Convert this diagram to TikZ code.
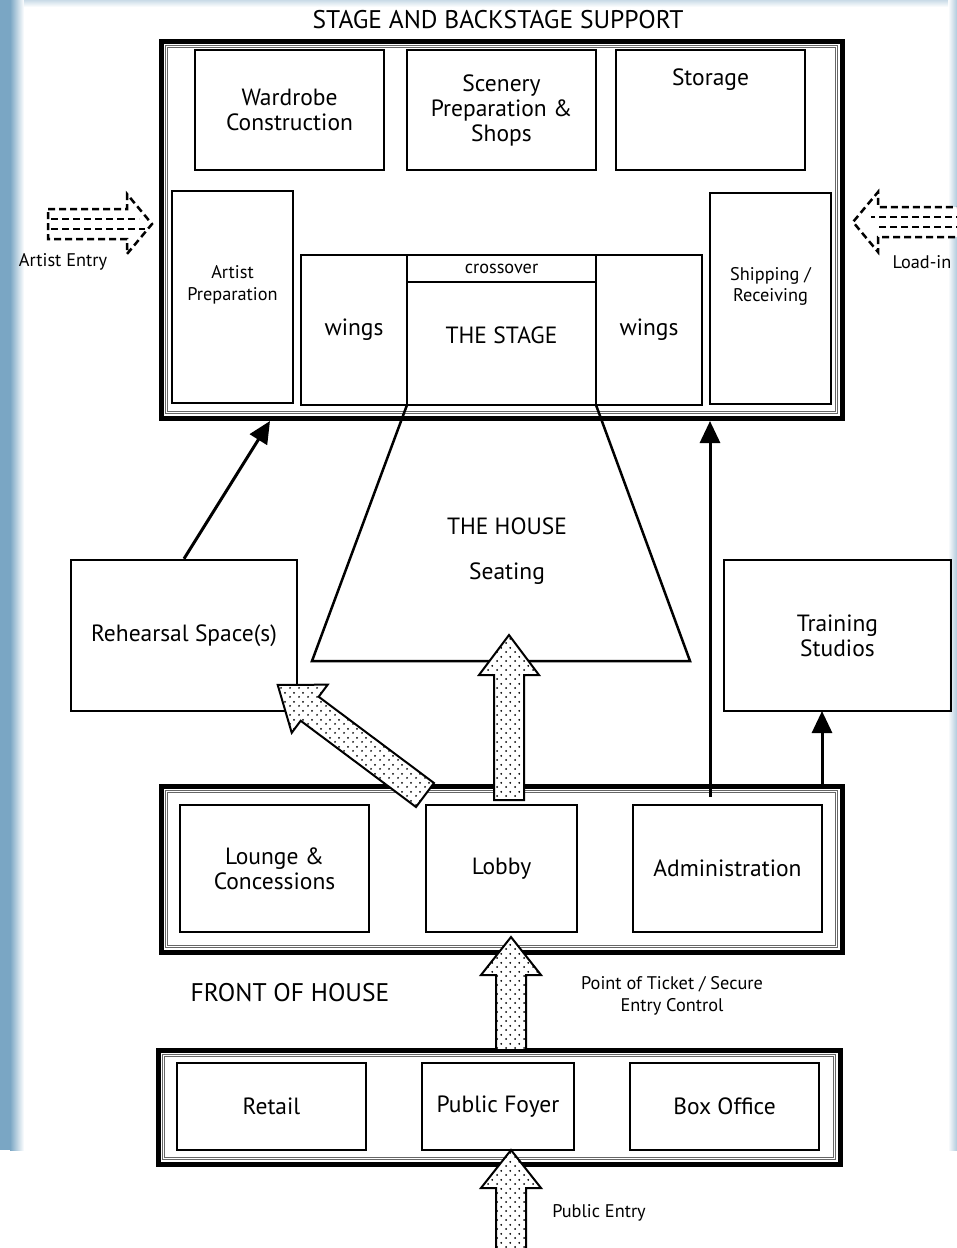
\documentclass[tikz,border=0pt]{standalone}
\usepackage{fontspec}
\setmainfont{PT Sans}
\usetikzlibrary{shapes.geometric, arrows.meta, patterns}

\definecolor{edgeblue}{RGB}{122,166,196}
\newcommand{\roomfont}{\fontsize{23.5}{25}\selectfont}
\newcommand{\notefont}{\fontsize{18.3}{21.5}\selectfont}
\newcommand{\titlefont}{\fontsize{25.5}{28}\selectfont}

\pgfdeclarepatternformonly{sparsedots}{\pgfqpoint{0pt}{0pt}}{\pgfqpoint{9pt}{9pt}}{\pgfqpoint{9pt}{9pt}}{%
  \pgfpathcircle{\pgfqpoint{2.25pt}{2.25pt}}{1.1pt}%
  \pgfpathcircle{\pgfqpoint{6.75pt}{6.75pt}}{1.1pt}%
  \pgfusepath{fill}}

\tikzstyle{room} = [rectangle, draw=black, line width=2.5pt, align=center, font=\roomfont, inner sep=0pt]
\tikzstyle{zone} = [rectangle, draw=black, line width=5pt, inner sep=0pt]
\tikzstyle{zoneline} = [draw=black!60, line width=1.1pt, double=white, double distance=1.4pt]
\tikzstyle{notetext} = [font=\notefont, align=center]
\tikzstyle{arrow} = [line width=3pt, -{Triangle[length=22pt,width=20pt]}]
\tikzstyle{dotarrow} = [draw=black, line width=2pt, pattern=sparsedots, preaction={fill=white}]
\tikzstyle{dasharrow} = [draw=black, line width=2.5pt, dash pattern=on 7pt off 4pt, fill=white]
\tikzstyle{dashline} = [draw=black, line width=2.5pt, dash pattern=on 7pt off 4pt]

% inner thin lines of a zone frame
\newcommand{\zoneframe}[1]{\draw [zoneline] ([shift={(8,8)}]#1.north west) rectangle ([shift={(-8,-8)}]#1.south east);}
% block arrow: style, tail, angle, length, head length
\newcommand{\blockarrow}[5]{\draw [#1, shift={(#2)}, rotate=#3]
  (0,-15) -- (#4-#5,-15) -- (#4-#5,-30) -- (#4,0) -- (#4-#5,30) -- (#4-#5,15) -- (0,15) -- cycle;}

\begin{document}
\begin{tikzpicture}[x=1pt, y=-1pt]
\fill [white] (0,0) rectangle (957,1248);
\useasboundingbox (0,0) rectangle (957,1248);
\fill [edgeblue] (0,0) rectangle (10,1150);
\shade [left color=edgeblue, right color=white] (10,0) rectangle (24,1150);
\shade [left color=white, right color=edgeblue!60] (948,0) rectangle (957,1150);
\shade [top color=edgeblue!40, bottom color=white] (24,0) rectangle (948,7);

% stage and backstage support
\node (support) [zone, minimum width=681pt, minimum height=377pt] at (501.5,229.5) {};
\zoneframe{support}
\node (title) [font=\titlefont] at (498,20) {STAGE AND BACKSTAGE SUPPORT};
\node (wardrobe) [room, minimum width=189pt, minimum height=120pt] at (289.5,110) {Wardrobe\\Construction};
\node (scenery) [room, minimum width=189pt, minimum height=120pt] at (501.5,110) {Scenery\\Preparation \&\\Shops};
\node (storage) [room, minimum width=189pt, minimum height=120pt,
  label={[anchor=center, yshift=-31pt, font=\roomfont]north:Storage}] at (710.5,110) {};
\node (artprep) [room, minimum width=121pt, minimum height=212pt,
  label={[yshift=12pt, notetext]center:Artist\\Preparation}] at (232.5,297) {};
\node (shipping) [room, minimum width=121pt, minimum height=211pt,
  label={[yshift=12pt, notetext]center:Shipping /\\Receiving}] at (770.5,298.5) {};
\node (wingsleft) [room, minimum width=106pt, minimum height=150pt] at (354,330) {wings};
\node (wingsright) [room, minimum width=106pt, minimum height=150pt] at (649,330) {wings};
\node (crossover) [room, font=\notefont, minimum width=189pt, minimum height=27pt] at (501.5,268.5) {crossover};
\node (stage) [room, minimum width=189pt, minimum height=123pt,
  label={[yshift=8pt, font=\roomfont]center:THE STAGE}] at (501.5,343.5) {};

% the house
\draw [line width=2.5pt, line join=miter] (407,405) -- (312,661) -- (690,661) -- (596,405);
\node (house) [font=\roomfont, align=center] at (507,551) {THE HOUSE\\[20pt]Seating};

\node (rehearsal) [room, minimum width=226pt, minimum height=151pt] at (184,635.5) {Rehearsal Space(s)};
\node (training) [room, minimum width=227pt, minimum height=151pt] at (837.5,635.5) {Training\\Studios};

% front of house
\node (foh) [zone, minimum width=681pt, minimum height=166pt] at (501.5,869) {};
\zoneframe{foh}
\node (lounge) [room, minimum width=189pt, minimum height=127pt] at (274.5,868.5) {Lounge \&\\Concessions};
\node (lobby) [room, minimum width=151pt, minimum height=127pt] at (501.5,868.5) {Lobby};
\node (admin) [room, minimum width=189pt, minimum height=127pt] at (727.5,868.5) {Administration};
\node (fohtitle) [font=\titlefont] at (290,993) {FRONT OF HOUSE};
\node (ticket) [notetext] at (672,996) {Point of Ticket / Secure\\Entry Control};

\node (public) [zone, minimum width=682pt, minimum height=114pt] at (499,1107) {};
\zoneframe{public}
\node (retail) [room, minimum width=189pt, minimum height=87pt] at (271.5,1106.5) {Retail};
\node (foyer) [room, minimum width=152pt, minimum height=87pt] at (498,1106.5) {Public Foyer};
\node (boxoffice) [room, minimum width=189pt, minimum height=87pt] at (724.5,1106.5) {Box Office};
\node (publicentry) [notetext] at (599,1213) {Public Entry};

% entries
\coordinate (artentry) at (48,224);
\coordinate (loadentry) at (966,222);
\blockarrow{dasharrow}{artentry}{0}{104}{25}
\draw [dashline] (artentry) ++(3,-5) -- ++(88,0);
\draw [dashline] (artentry) ++(3,5) -- ++(94,0);
\blockarrow{dasharrow}{loadentry}{180}{113}{25}
\draw [dashline] (loadentry) ++(-3,-5) -- ++(-92,0);
\draw [dashline] (loadentry) ++(-3,5) -- ++(-86,0);
\node (artistentry) [notetext] at (63,262) {Artist Entry};
\node (loadin) [notetext] at (922,262) {Load-in};

% connectors
\coordinate (artdoor) at (270,421);
\coordinate (loaddoor) at (710,421);
\coordinate (studiodoor) at (822,711);
\draw [arrow] (rehearsal.north) -- (artdoor);
\draw [arrow, shorten <=7pt] (admin.north -| loaddoor) -- (loaddoor);
\draw [arrow] (foh.north -| studiodoor) -- (studiodoor);

\coordinate (houseway) at (509,800);
\coordinate (rehearsalway) at (425,795);
\coordinate (ticketway) at (511,1050);
\coordinate (streetway) at (511,1252);
\blockarrow{dotarrow}{houseway}{90}{165}{40}
\blockarrow{dotarrow}{rehearsalway}{143.2}{184}{40}
\blockarrow{dotarrow}{ticketway}{90}{113}{38}
\blockarrow{dotarrow}{streetway}{90}{102}{38}
\end{tikzpicture}
\end{document}
